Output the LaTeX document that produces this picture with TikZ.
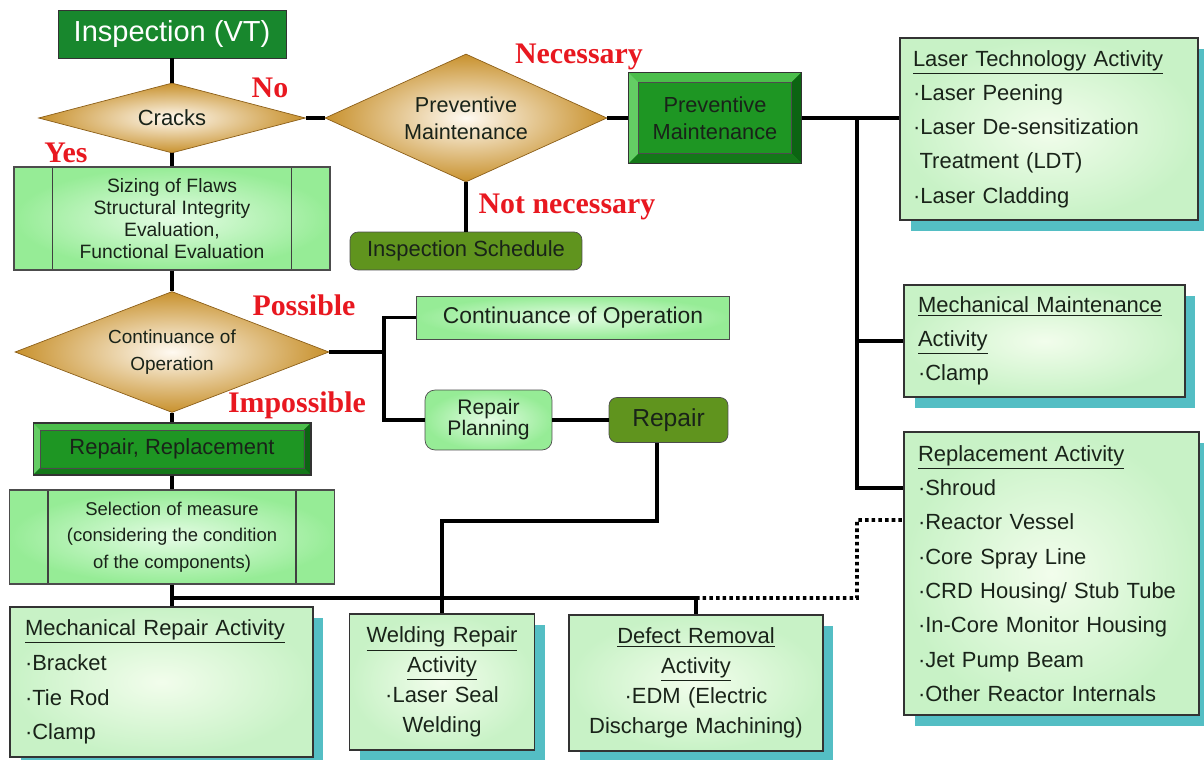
\documentclass[tikz,border=0pt]{standalone}
\usepackage{fontspec}
\setmainfont{Liberation Sans}
\newfontfamily\labelfont{Liberation Serif}
\usetikzlibrary{shapes.geometric,shadows}

\newcommand\setfs[2]{\fontsize{#1}{#2}\selectfont}

\definecolor{vtgreen}{RGB}{24,135,45}
\definecolor{bvface}{RGB}{30,150,35}
\definecolor{bvtop}{RGB}{75,190,75}
\definecolor{bvleft}{RGB}{100,205,100}
\definecolor{bvright}{RGB}{12,100,18}
\definecolor{bvbottom}{RGB}{20,120,25}
\definecolor{olivegreen}{RGB}{96,148,30}
\definecolor{goldout}{RGB}{200,145,45}
\definecolor{goldin}{RGB}{255,250,242}
\definecolor{goldline}{RGB}{140,95,25}
\definecolor{procout}{RGB}{150,236,150}
\definecolor{procin}{RGB}{228,252,228}
\definecolor{actout}{RGB}{200,242,198}
\definecolor{actin}{RGB}{242,253,236}
\definecolor{shteal}{RGB}{84,190,196}
\definecolor{labelred}{RGB}{232,24,32}
\definecolor{txtdark}{RGB}{25,35,25}

\tikzset{
  link/.style={line width=2.1pt},
  dotlink/.style={line width=2.2pt, dash pattern=on 2pt off 1.8pt},
  startbox/.style={draw=black!80, fill=vtgreen, text=white, minimum width=4.56cm,
    minimum height=0.96cm, font=\setfs{16.5}{18}},
  decision/.style={diamond, draw=goldline, inner color=goldin, outer color=goldout,
    inner sep=0pt, align=center, text=txtdark},
  bevelbox/.style={draw=black!80, fill=bvface, line width=0.6pt, align=center, text=txtdark,
    path picture={
      \fill[bvtop] (path picture bounding box.north west) -- (path picture bounding box.north east)
        -- ([shift={(-#1,-#1)}]path picture bounding box.north east)
        -- ([shift={(#1,-#1)}]path picture bounding box.north west) -- cycle;
      \fill[bvleft] (path picture bounding box.north west) -- (path picture bounding box.south west)
        -- ([shift={(#1,#1)}]path picture bounding box.south west)
        -- ([shift={(#1,-#1)}]path picture bounding box.north west) -- cycle;
      \fill[bvright] (path picture bounding box.north east) -- (path picture bounding box.south east)
        -- ([shift={(-#1,#1)}]path picture bounding box.south east)
        -- ([shift={(-#1,-#1)}]path picture bounding box.north east) -- cycle;
      \fill[bvbottom] (path picture bounding box.south west) -- (path picture bounding box.south east)
        -- ([shift={(-#1,#1)}]path picture bounding box.south east)
        -- ([shift={(#1,#1)}]path picture bounding box.south west) -- cycle;
      \draw[black!70, line width=0.4pt] ([shift={(#1,-#1)}]path picture bounding box.north west)
        rectangle ([shift={(-#1,#1)}]path picture bounding box.south east);
    }},
  roundbox/.style={draw=black!70, fill=olivegreen, rounded corners=0.16cm, text=txtdark, align=center},
  lightbox/.style={draw=black!70, inner color=procin, outer color=procout, text=txtdark, align=center},
  procbox/.style={lightbox, line width=0.8pt,
    path picture={
      \draw[black!75, line width=0.8pt]
        ([xshift=0.77cm]path picture bounding box.north west) -- ([xshift=0.77cm]path picture bounding box.south west)
        ([xshift=-0.77cm]path picture bounding box.north east) -- ([xshift=-0.77cm]path picture bounding box.south east);
    }},
  actbox/.style={draw=black!80, line width=0.8pt, inner color=actin, outer color=actout, text=txtdark,
    drop shadow={shadow xshift=0.21cm, shadow yshift=-0.22cm, fill=shteal, opacity=1},
    font=\setfs{12.5}{19.5}},
  redlabel/.style={text=labelred, font=\labelfont\bfseries\setfs{17}{17}, inner sep=0pt}
}

\begin{document}
\begin{tikzpicture}[x=0.02cm, y=-0.02cm]
\useasboundingbox (0,0) rectangle (1204,760);

% main column
\node[startbox] (vt) at (172,34) {Inspection (VT)};
\node[decision, aspect=3.8, minimum width=5.34cm, minimum height=1.4cm, font=\setfs{12.5}{15}] (cracks) at (172,118) {Cracks};
\node[procbox, minimum width=6.32cm, minimum height=2.06cm, font=\setfs{11}{12.5}] (sizing) at (172,218.5)
  {Sizing of Flaws\\Structural Integrity\\Evaluation,\\Functional Evaluation};
\node[decision, aspect=2.6, minimum width=6.28cm, minimum height=2.42cm, font=\setfs{10.8}{15.5}] (contdec) at (172,352)
  {Continuance of\\Operation};
\node[bevelbox=0.14cm, minimum width=5.56cm, minimum height=1.04cm, font=\setfs{12.5}{14}] (rr) at (172,449) {Repair, Replacement};
\node[procbox, minimum width=6.5cm, minimum height=1.88cm, font=\setfs{10.5}{15}] (select) at (172,537)
  {Selection of measure\\(considering the condition\\of the components)};

% preventive maintenance branch
\node[decision, aspect=2.2, minimum width=5.64cm, minimum height=2.56cm, font=\setfs{12.3}{15.3}] (pmdec) at (466,118)
  {Preventive\\Maintenance};
\node[bevelbox=0.2cm, minimum width=3.46cm, minimum height=1.82cm, font=\setfs{12.4}{15.3}] (pmbox) at (715,118)
  {Preventive\\Maintenance};
\node[roundbox, minimum width=4.64cm, minimum height=0.76cm, font=\setfs{12.5}{14}] (insched) at (466,251) {Inspection Schedule};

% operation branch
\node[lightbox, minimum width=6.26cm, minimum height=0.86cm, font=\setfs{13}{15}] (contop) at (573,317.5) {Continuance of Operation};
\node[lightbox, rounded corners=0.2cm, minimum width=2.54cm, minimum height=1.2cm, font=\setfs{12}{12}] (plan) at (488.5,420)
  {Repair\\Planning};
\node[roundbox, minimum width=2.38cm, minimum height=0.9cm, font=\setfs{14}{16}] (repair) at (668.5,420) {Repair};

% activities
\node[actbox, text width=5.44cm, inner xsep=0.26cm, minimum height=3.64cm, align=left] (laser) at (1049,129)
  {\underline{Laser Technology Activity}\\·Laser Peening\\·Laser De-sensitization\\\hspace*{0.3em}Treatment (LDT)\\·Laser Cladding};
\node[actbox, text width=5.06cm, inner xsep=0.28cm, minimum height=2.24cm, align=left] (mmaint) at (1044.5,341)
  {\underline{Mechanical Maintenance}\\\underline{Activity}\\·Clamp};
\node[actbox, text width=5.34cm, inner xsep=0.28cm, minimum height=5.66cm, align=left] (replace) at (1051.5,573.5)
  {\underline{Replacement Activity}\\·Shroud\\·Reactor Vessel\\·Core Spray Line\\·CRD Housing/ Stub Tube\\·In-Core Monitor Housing\\·Jet Pump Beam\\·Other Reactor Internals};
\node[actbox, text width=5.46cm, inner xsep=0.3cm, minimum height=3.0cm, align=left, font=\setfs{12.5}{19.8}] (mrep) at (161.5,682)
  {\underline{Mechanical Repair Activity}\\·Bracket\\·Tie Rod\\·Clamp};
\node[actbox, text width=3.3cm, inner xsep=0.2cm, minimum height=2.72cm, align=center, font=\setfs{12.5}{17}] (weld) at (442,682)
  {\underline{Welding Repair}\\\underline{Activity}\\·Laser Seal\\Welding};
\node[actbox, text width=4.68cm, inner xsep=0.2cm, minimum height=2.72cm, align=center, font=\setfs{12.5}{17}] (defect) at (696,683)
  {\underline{Defect Removal}\\\underline{Activity}\\·EDM (Electric\\Discharge Machining)};

% labels
\node[redlabel] (lno) at (270,88) {No};
\node[redlabel] (lyes) at (66,153) {Yes};
\node[redlabel] (lnec) at (579,57) {Necessary};
\node[redlabel] (lnot) at (567,207) {Not necessary};
\node[redlabel] (lposs) at (304,305) {Possible};
\node[redlabel] (limp) at (297,405) {Impossible};

% connectors
\coordinate (rfork) at (857,118);
\coordinate (opfork) at (384,352);
\coordinate (repbend) at (442,521);
\coordinate (bus) at (172,598);
\coordinate (dotx) at (857,520);

\draw[link] (vt) -- (cracks);
\draw[link] (cracks) -- (sizing);
\draw[link] (sizing) -- (contdec);
\draw[link] (contdec) -- (rr);
\draw[link] (rr) -- (select);
\draw[link] (cracks.east) -- (pmdec.west);
\draw[link] (pmdec.east) -- (pmbox.west);
\draw[link] (pmdec.south) -- (insched.north);
\draw[link] (pmbox.east) -- (laser.west |- pmbox.east);
\draw[link] (rfork) |- (mmaint.west);
\draw[link] (rfork) |- ([yshift=1.71cm]replace.west);
\draw[link] (contdec.east) -- (opfork);
\draw[link] (contop.west) -| (opfork) |- (plan.west);
\draw[link] (plan.east) -- (repair.west);
\draw[link] ([xshift=-0.23cm]repair.south) |- (repbend) -- (weld.north);
\draw[link] (select.south) -- (select.south |- mrep.north);
\draw[link] (bus) -| (defect.north);
\draw[dotlink] (defect.north |- bus) -| (dotx) -- ([yshift=1.07cm]replace.west);
\end{tikzpicture}
\end{document}
